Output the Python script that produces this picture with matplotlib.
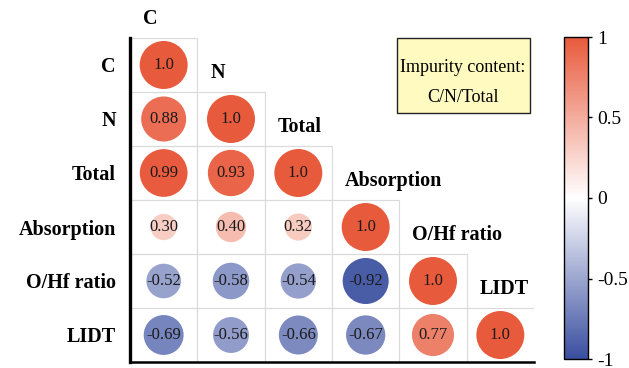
import matplotlib
matplotlib.use("Agg")
import matplotlib.pyplot as plt
import numpy as np
from matplotlib.colors import LinearSegmentedColormap, Normalize
from matplotlib.patches import Rectangle

plt.rcParams["font.family"] = ["Liberation Serif", "DejaVu Serif"]
plt.rcParams["axes.unicode_minus"] = False

labels = ["C", "N", "Total", "Absorption", "O/Hf ratio", "LIDT"]
# lower triangle of the correlation matrix, row by row
row_c = [1.0]
row_n = [0.88, 1.0]
row_total = [0.99, 0.93, 1.0]
row_abs = [0.30, 0.40, 0.32, 1.0]
row_ohf = [-0.52, -0.58, -0.54, -0.92, 1.0]
row_lidt = [-0.69, -0.56, -0.66, -0.67, 0.77, 1.0]
rows = [row_c, row_n, row_total, row_abs, row_ohf, row_lidt]

cbar_ticks = [1, 0.5, 0, -0.5, -1]
cbar_labels = ["1", "0.5", "0", "-0.5", "-1"]

cmap = LinearSegmentedColormap.from_list("rb", ["#3A4FA0", "#FFFFFF", "#E85A3C"])
norm = Normalize(-1, 1)

W, H = 629, 368
fig = plt.figure(figsize=(W / 100, H / 100), dpi=100)
ax = fig.add_axes([130 / W, 1 - 362 / H, 404 / W, 324 / H])
n = len(labels)
ax.set_xlim(0, n)
ax.set_ylim(n, 0)

# cell borders and circles
for i, vals in enumerate(rows):
    for j, v in enumerate(vals):
        ax.add_patch(Rectangle((j, i), 1, 1, fill=False, ec="#DADADA", lw=0.8))
        ax.scatter(j + 0.5, i + 0.5, s=1194 * abs(v), color=cmap(norm(v)),
                   edgecolors="none", zorder=3)
        txt = "1.0" if v == 1.0 else f"{v:.2f}"
        ax.text(j + 0.5, i + 0.5, txt, ha="center", va="center",
                fontsize=12, color="#1a1a1a", zorder=4)

# column names along the diagonal
for j, name in enumerate(labels):
    ax.text(j + 0.19, j - 0.36, name, ha="left", va="center", fontsize=14.5,
            fontweight="bold", clip_on=False)

ax.set_yticks(np.arange(n) + 0.5)
ax.set_yticklabels(labels, fontsize=14.5, fontweight="bold")
ax.tick_params(axis="y", length=0, pad=10)
ax.set_xticks([])
for s in ["top", "right"]:
    ax.spines[s].set_visible(False)
ax.spines["left"].set_linewidth(2.4)
ax.spines["bottom"].set_linewidth(1.8)

# legend box
fig.patches.append(Rectangle((397 / W, 1 - 113 / H), 133 / W, 75 / H,
                             transform=fig.transFigure, fc="#FFFAC0",
                             ec="#222222", lw=1.0))
fig.text(463 / W, 1 - 67 / H, "Impurity content:", ha="center", va="center", fontsize=13)
fig.text(463 / W, 1 - 97 / H, "C/N/Total", ha="center", va="center", fontsize=13)

# colorbar
cax = fig.add_axes([564 / W, 1 - 359 / H, 24 / W, 322 / H])
sm = plt.cm.ScalarMappable(norm=norm, cmap=cmap)
cb = fig.colorbar(sm, cax=cax)
cb.set_ticks(cbar_ticks)
cb.set_ticklabels(cbar_labels)
cb.ax.tick_params(labelsize=14, length=3, width=1)
cb.outline.set_linewidth(1.0)

fig.savefig("out.png", dpi=100, facecolor="white")
